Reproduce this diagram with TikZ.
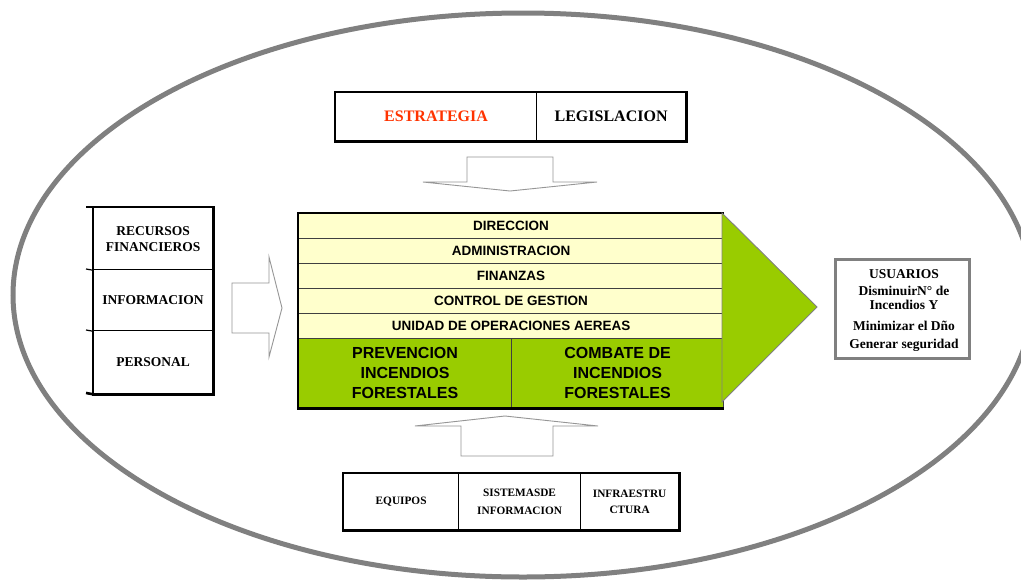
\documentclass[tikz,border=0pt]{standalone}
\usepackage{fontspec}
\setmainfont{Liberation Serif}
\newfontfamily\arialf{Liberation Sans}
\definecolor{ellgray}{RGB}{128,128,128}
\definecolor{arrgray}{RGB}{150,150,150}
\definecolor{lightyel}{RGB}{255,255,204}
\definecolor{leafgreen}{RGB}{153,204,0}
\definecolor{estred}{RGB}{255,51,0}
\definecolor{rowline}{RGB}{64,64,64}
\begin{document}
\begin{tikzpicture}[x=1pt,y=-1pt,
  cell/.style={draw=black, line width=1.2pt, inner sep=0pt, anchor=north west, align=center},
  outer/.style={draw=black, line width=2.6pt},
  rowbox/.style={draw=rowline, line width=1.2pt, fill=lightyel, inner sep=0pt, anchor=north west,
     minimum width=425pt, minimum height=25pt, font=\arialf\fontsize{13.5}{15}\selectfont\bfseries},
  greenbox/.style={draw=rowline, line width=1.2pt, fill=leafgreen, inner sep=0pt, anchor=north west,
     minimum height=69pt, align=center, font=\arialf\fontsize{16}{20}\selectfont\bfseries},
  blockarrow/.style={draw=arrgray, line width=0.9pt, fill=white},
  txtA/.style={font=\fontsize{16}{18}\selectfont\bfseries},
  txtB/.style={font=\fontsize{13.5}{17}\selectfont\bfseries, align=center},
  txtC/.style={font=\fontsize{11.3}{18}\selectfont\bfseries, align=center}]
\useasboundingbox (0,0) rectangle (1021,582);
\fill[white] (0,0) rectangle (1021,582);
\begin{scope}
\clip (0,0) rectangle (1021,582);
\draw[ellgray, line width=5pt] (523,295) ellipse [x radius=510pt, y radius=282pt];
\end{scope}

% top box
\node[cell, minimum width=201pt, minimum height=48pt, txtA, text=estred] (estr) at (335,92) {ESTRATEGIA};
\node[cell, minimum width=149pt, minimum height=48pt, txtA] (legis) at (536,92) {LEGISLACION};
\draw[outer] (estr.north west) rectangle (legis.south east);

% down arrow
\draw[blockarrow] (467,157) -- (553,157) -- (553,182) -- (597,182) -- (510,191) -- (423,182) -- (467,182) -- cycle;

% left box
\node[cell, minimum width=119pt, minimum height=62pt, txtB] (recur) at (93,207) {RECURSOS\\[-1pt]FINANCIEROS};
\node[cell, minimum width=119pt, minimum height=61pt, txtB] (info) at (93,269) {INFORMACION};
\node[cell, minimum width=119pt, minimum height=63pt, txtB] (pers) at (93,330) {PERSONAL};
\draw[outer] (recur.north west) rectangle (pers.south east);
\draw[line width=1.2pt] (86,269) -- (recur.south west);
\draw[line width=1.2pt] (86,330) -- (info.south west);
\draw[outer] (86,207) -- (recur.north west);
\draw[outer] (86,393) -- (pers.south west);

% right arrow
\draw[blockarrow] (232,283) -- (269,283) -- (269,257) -- (282,308) -- (269,357) -- (269,333) -- (232,333) -- cycle;

% main box
\node[rowbox] (dir) at (298,213) {DIRECCION};
\node[rowbox] (adm) at (298,238) {ADMINISTRACION};
\node[rowbox] (fin) at (298,263) {FINANZAS};
\node[rowbox] (ctrl) at (298,288) {CONTROL DE GESTION};
\node[rowbox] (uoa) at (298,313) {UNIDAD DE OPERACIONES AEREAS};
\node[greenbox, minimum width=213pt] (prev) at (298,338) {PREVENCION\\INCENDIOS\\FORESTALES};
\node[greenbox, minimum width=212pt] (comb) at (511,338) {COMBATE DE\\INCENDIOS\\FORESTALES};
\draw[outer] (dir.north east) -- (dir.north west) -- (prev.south west) -- (comb.south east);

% green triangle
\coordinate (tritip) at (817,307);
\filldraw[fill=leafgreen, draw=ellgray, line width=0.9pt] (722,213) -- (tritip) -- (722,402) -- cycle;

% usuarios box
\node[draw=ellgray, line width=2.8pt, minimum width=134pt, minimum height=99pt, inner sep=0pt, anchor=north west] (usu) at (834,258) {};
\node[font=\fontsize{13.5}{16}\selectfont\bfseries, align=center, inner sep=0pt] (usutxt) at (904,311)
  {USUARIOS\\[1pt]DisminuirN° de\\[-2pt]Incendios Y\\[5pt]Minimizar el Dño\\[2pt]Generar seguridad};

% up arrow
\draw[blockarrow] (415,426) -- (505,416) -- (598,426) -- (553,426) -- (553,456) -- (461,456) -- (461,426) -- cycle;

% bottom box
\node[cell, minimum width=115pt, minimum height=56pt, txtC] (equi) at (343,473) {EQUIPOS};
\node[cell, minimum width=122pt, minimum height=56pt, txtC] (sist) at (458,473) {SISTEMASDE\\INFORMACION};
\node[cell, minimum width=98pt, minimum height=56pt, font=\fontsize{11.3}{16}\selectfont\bfseries, align=center] (infra) at (580,473) {INFRAESTRU\\CTURA};
\draw[outer] (equi.north west) rectangle (infra.south east);
\end{tikzpicture}
\end{document}
